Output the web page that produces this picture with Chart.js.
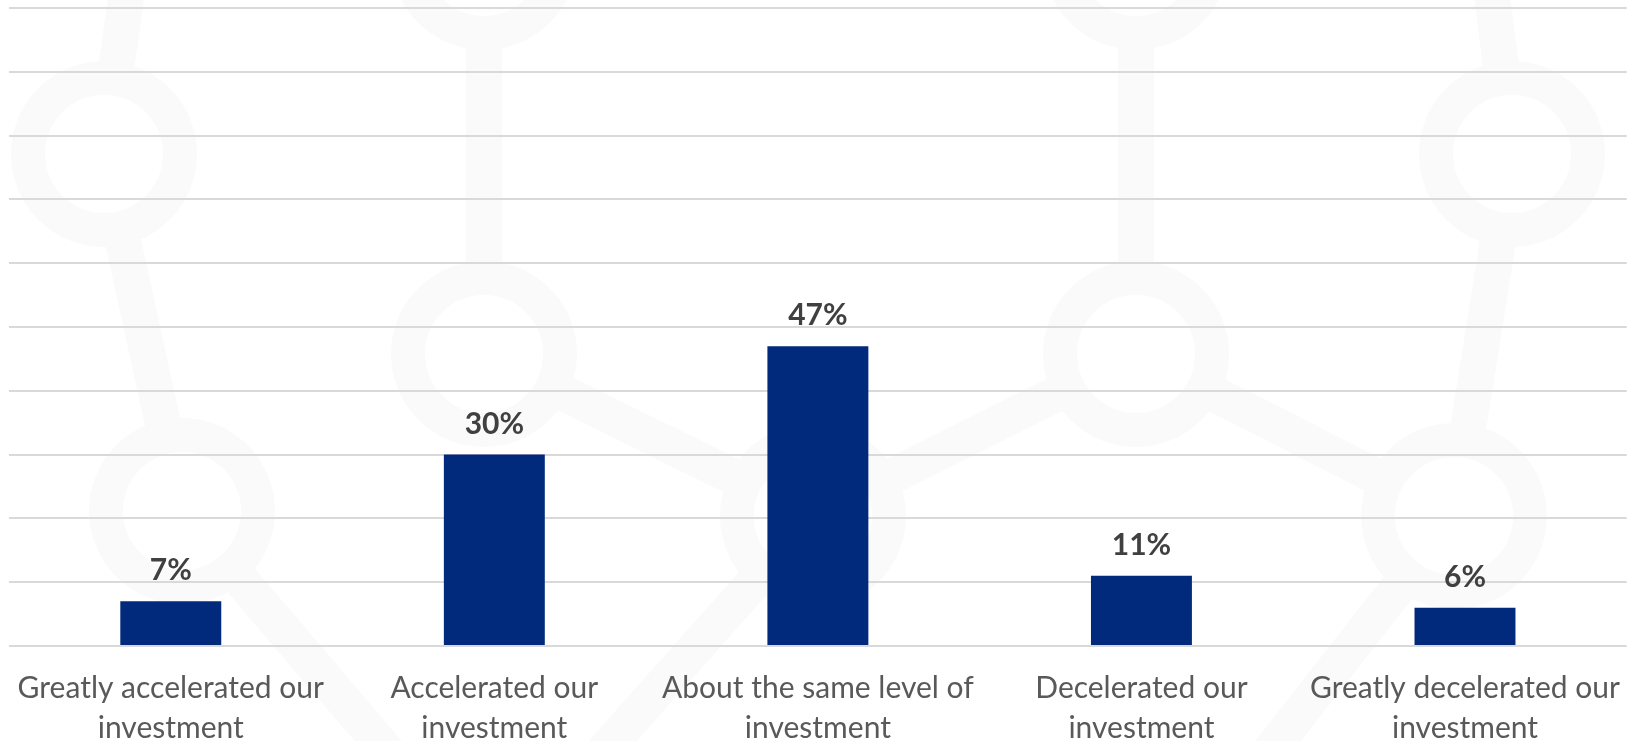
<!DOCTYPE html>
<html>
<head>
<meta charset="utf-8">
<script src="https://cdn.jsdelivr.net/npm/chart.js@4.4.1/dist/chart.umd.min.js"></script>
<style>
  html, body { margin: 0; padding: 0; background: #ffffff; }
  #wrap { width: 1634px; height: 741px; position: relative; }
</style>
</head>
<body>
<div id="wrap"><canvas id="chart"></canvas></div>
<script>
const categories = [
  ["Greatly accelerated our", "investment"],
  ["Accelerated our", "investment"],
  ["About the same level of", "investment"],
  ["Decelerated our", "investment"],
  ["Greatly decelerated our", "investment"],
];
const shares = [7, 30, 47, 11, 6];
const shareLabels = ["7%", "30%", "47%", "11%", "6%"];

const BAR_COLOR = "#012a7d";
const GRID_COLOR = "#d9d9d9";
const WATERMARK = "#fafafa";

// faint network graphic behind the plot
const wmNodes = [
  [104, 154], [484, -43], [484, 354], [182, 511], [813, 516],
  [1136, -43], [1136, 354], [1512, 154], [1454, 516],
];
const wmLinks = [
  [[104, 154], [140, -100]], [[104, 154], [182, 511]], [[182, 511], [420, 790]],
  [[484, -43], [484, 354]], [[484, 354], [813, 516]], [[813, 516], [560, 800]],
  [[813, 516], [1136, 354]], [[1136, -43], [1136, 354]], [[1136, 354], [1454, 516]],
  [[1454, 516], [1232, 800]], [[1512, 154], [1454, 516]], [[1512, 154], [1480, -100]],
];

const watermark = {
  id: "watermark",
  beforeDraw(chart) {
    const ctx = chart.ctx;
    ctx.save();
    ctx.strokeStyle = WATERMARK;
    ctx.lineWidth = 36;
    wmLinks.forEach(([a, b]) => {
      ctx.beginPath();
      ctx.moveTo(a[0], a[1]);
      ctx.lineTo(b[0], b[1]);
      ctx.stroke();
    });
    wmNodes.forEach(([x, y]) => {
      ctx.fillStyle = "#ffffff";
      ctx.beginPath();
      ctx.arc(x, y, 76, 0, Math.PI * 2);
      ctx.fill();
      ctx.lineWidth = 34;
      ctx.beginPath();
      ctx.arc(x, y, 76, 0, Math.PI * 2);
      ctx.stroke();
    });
    ctx.restore();
  },
};

const valueLabels = {
  id: "valueLabels",
  afterDatasetsDraw(chart) {
    const ctx = chart.ctx;
    const meta = chart.getDatasetMeta(0);
    ctx.save();
    ctx.font = "bold 30px Lato";
    ctx.fillStyle = "#404040";
    ctx.textAlign = "center";
    ctx.textBaseline = "alphabetic";
    meta.data.forEach((bar, i) => {
      ctx.fillText(shareLabels[i], bar.x, bar.y - 21);
    });
    ctx.restore();
  },
};

new Chart(document.getElementById("chart"), {
  type: "bar",
  data: {
    labels: categories,
    datasets: [{
      data: shares,
      backgroundColor: BAR_COLOR,
      borderWidth: 0,
      barPercentage: 0.52,
      categoryPercentage: 0.6,
    }],
  },
  options: {
    responsive: true,
    maintainAspectRatio: false,
    animation: false,
    layout: { padding: { left: 9, right: 0, top: 8, bottom: 0 } },
    plugins: { legend: { display: false }, tooltip: { enabled: false } },
    scales: {
      x: {
        grid: { display: false },
        border: { display: false },
        ticks: {
          color: "#595959",
          font: { family: "Lato", size: 30, lineHeight: 1.33 },
          padding: 14,
          maxRotation: 0,
          autoSkip: false,
        },
        afterFit: axis => { axis.height = 95; },
      },
      y: {
        min: 0,
        max: 100,
        ticks: { display: false, stepSize: 10 },
        grid: { color: GRID_COLOR, lineWidth: 2, drawTicks: false },
        border: { display: false },
        afterFit: axis => { axis.width = 0; },
      },
    },
  },
  plugins: [watermark, valueLabels],
});
</script>
</body>
</html>
